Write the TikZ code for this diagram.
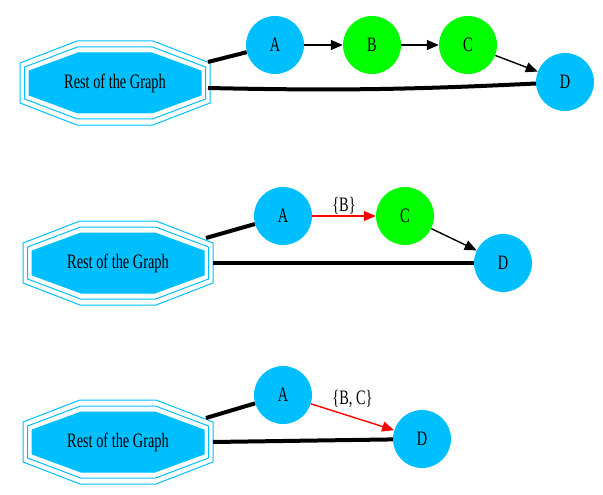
\documentclass[tikz,border=0pt]{standalone}
\usepackage{fontspec}
\usepackage{graphicx}
\setmainfont{Liberation Serif}
\usetikzlibrary{arrows.meta}

\definecolor{nodeblue}{RGB}{0,191,255}
\definecolor{nodegreen}{RGB}{0,255,0}

% texto estrecho
\newcommand{\nar}[1]{\scalebox{0.7}[1]{#1}}

% octagono triple
\newcommand{\tripleoct}[1]{%
  \begin{scope}[shift={#1}]
    \filldraw[nodeblue, line width=1pt] (-37,-30) -- (37,-30) -- (86,-12) -- (86,12) -- (37,30) -- (-37,30) -- (-86,12) -- (-86,-12) -- cycle;
    \draw[nodeblue, line width=1pt] (-37.5,-36) -- (37.5,-36) -- (90.5,-16) -- (90.5,16) -- (37.5,36) -- (-37.5,36) -- (-90.5,16) -- (-90.5,-16) -- cycle;
    \draw[nodeblue, line width=1pt] (-38,-42) -- (38,-42) -- (95,-20) -- (95,20) -- (38,42) -- (-38,42) -- (-95,20) -- (-95,-20) -- cycle;
  \end{scope}}

\tikzset{
  every node/.style={font=\fontsize{20.5}{20.5}\selectfont},
  vert/.style={circle, fill=nodeblue, minimum size=58pt, inner sep=0pt},
  vertg/.style={vert, fill=nodegreen},
  heavy/.style={line width=4pt},
  arr/.style={-{Triangle[length=12pt,width=10pt]}, line width=1.4pt},
}

\begin{document}
\begin{tikzpicture}[x=1pt, y=-1pt]
  \useasboundingbox (0,0) rectangle (603,495);

  % grafo 1
  \tripleoct{(115,83)}
  \node (r1) at (115,83) {\nar{Rest of the Graph}};
  \node[vert] (a1) at (275,45) {\nar{A}};
  \node[vertg] (b1) at (372,45) {\nar{B}};
  \node[vertg] (c1) at (468,45) {\nar{C}};
  \node[vert] (d1) at (565,82) {\nar{D}};
  \coordinate (r1a) at (208,62);
  \coordinate (r1d) at (208,88);

  \draw[heavy] (r1a) -- (a1);
  \draw[heavy] (r1d) to[bend right=2] (d1);
  \draw[arr] (a1) -- (b1);
  \draw[arr] (b1) -- (c1);
  \draw[arr] (c1) -- (d1);

  % grafo 2
  \tripleoct{(118,263)}
  \node (r2) at (118,263) {\nar{Rest of the Graph}};
  \node[vert] (a2) at (283,216) {\nar{A}};
  \node[vertg] (c2) at (405,216) {\nar{C}};
  \node[vert] (d2) at (503,263) {\nar{D}};
  \coordinate (r2a) at (206,238);
  \coordinate (r2d) at (213,263);

  \draw[heavy] (r2a) -- (a2);
  \draw[heavy] (r2d) -- (d2);
  \draw[arr, red] (a2) -- (c2) node[midway, above, inner sep=1pt, black] {\nar{\{B\}}};
  \draw[arr] (c2) -- (d2);

  % grafo 3
  \tripleoct{(118,442)}
  \node (r3) at (118,442) {\nar{Rest of the Graph}};
  \node[vert] (a3) at (283,395) {\nar{A}};
  \node[vert] (d3) at (422,439) {\nar{D}};
  \coordinate (r3a) at (206,418);
  \coordinate (r3d) at (213,442);

  \draw[heavy] (r3a) -- (a3);
  \draw[heavy] (r3d) -- (d3);
  \draw[arr, red] (a3) -- (d3) node[midway, above=5pt, black] {\nar{\{B, C\}}};
\end{tikzpicture}
\end{document}
